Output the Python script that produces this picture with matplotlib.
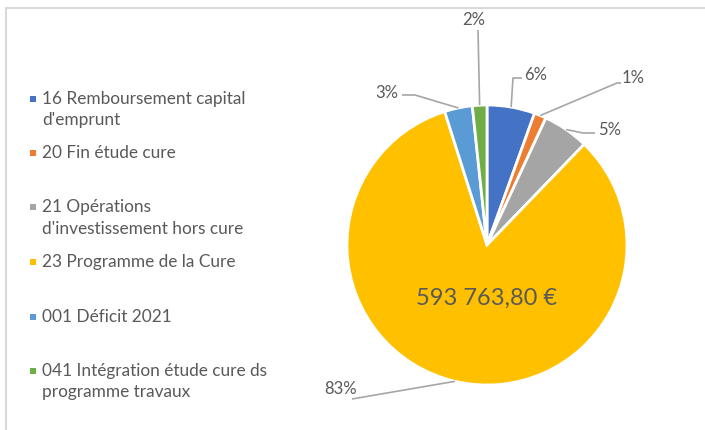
import matplotlib.pyplot as plt
import numpy as np

# data
categories = ["16 Remboursement capital\nd'emprunt",
              "20 Fin étude cure",
              "21 Opérations\nd'investissement hors cure",
              "23 Programme de la Cure",
              "001 Déficit 2021",
              "041 Intégration étude cure ds\nprogramme travaux"]
values = [39500, 10000, 38000, 593763.80, 23000, 12000]
colors = ['#4472C4', '#ED7D31', '#A5A5A5', '#FFC000', '#5B9BD5', '#70AD47']
center_label = "593 763,80 €"

# label text positions and elbow points (pixels, y from top)
label_pos = [(536, 75), (633, 78), (610, 130), (341, 389), (387, 93), (474, 20)]
elbows = [[(513, 78), (522, 78)],
          [(617, 83), (621, 83)],
          [(583, 133), (595, 133)],
          [(352, 399)],
          [(415, 95), (402, 95)],
          [(478, 30)]]

W, H = 705, 430
plt.rcParams['font.family'] = ['Lato', 'DejaVu Sans']
fig = plt.figure(figsize=(W / 100, H / 100), dpi=100)
ax = fig.add_axes([0, 0, 1, 1])

cx, cy, r = 487, H - 245, 140
wedges, _ = ax.pie(values, colors=colors, startangle=90, counterclock=False,
                   center=(cx, cy), radius=r,
                   wedgeprops=dict(edgecolor='white', linewidth=2))
ax.set_xlim(0, W)
ax.set_ylim(0, H)
ax.set_aspect('auto')
ax.axis('off')

total = sum(values)
for i, w in enumerate(wedges):
    mid = np.deg2rad((w.theta1 + w.theta2) / 2)
    px, py = cx + r * np.cos(mid), cy + r * np.sin(mid)
    pts = [(px, py)] + [(x, H - y) for x, y in elbows[i]]
    xs, ys = zip(*pts)
    ax.plot(xs, ys, color='#A6A6A6', lw=1.2, solid_capstyle='butt')
    pct = values[i] / total * 100
    lx, ly = label_pos[i]
    ax.text(lx, H - ly, f"{pct:.0f}%", ha='center', va='center',
            fontsize=12, color='#595959')

ax.text(cx, H - 298, center_label, ha='center', va='center',
        fontsize=17, color='#595959')

# legend
leg_y = [99, 153, 207, 262, 317, 371]
for i, lab in enumerate(categories):
    y = H - leg_y[i]
    ax.add_patch(plt.Rectangle((30, y - 3), 6, 6, color=colors[i], lw=0))
    for k, line in enumerate(lab.split('\n')):
        ax.text(42, y - 21.5 * k, line, ha='left', va='center',
                fontsize=12.4, color='#595959')

# chart border
ax.plot([5.5, 5.5, W], [0, H - 7.5, H - 7.5], color='#D9D9D9', lw=1.5)

fig.savefig('out.png', dpi=100)
